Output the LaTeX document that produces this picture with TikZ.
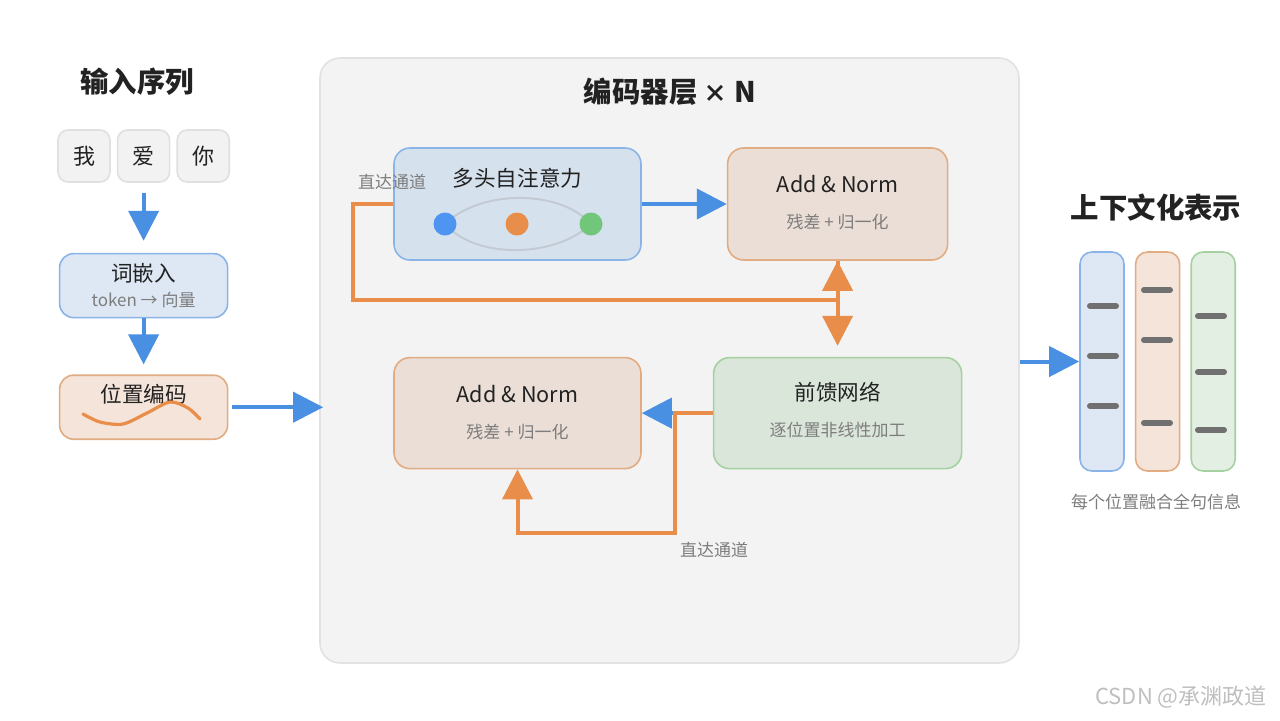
\documentclass[tikz,border=0pt]{standalone}
\usepackage{fontspec}
\setmainfont{Noto Sans CJK SC}
\usetikzlibrary{arrows.meta,calc,positioning}
\definecolor{FlowBlue}{RGB}{74,144,226}
\definecolor{ResOrange}{RGB}{232,142,74}
\definecolor{DotBlue}{RGB}{78,149,242}
\definecolor{DotGreen}{RGB}{114,198,122}
\definecolor{BlueLine}{RGB}{138,180,232}
\definecolor{BlueFill}{RGB}{222,231,244}
\definecolor{MhaFill}{RGB}{214,225,238}
\definecolor{OrangeLine}{RGB}{226,172,130}
\definecolor{OrangeFill}{RGB}{245,228,217}
\definecolor{AddFill}{RGB}{234,222,214}
\definecolor{GreenLine}{RGB}{165,208,160}
\definecolor{GreenFill}{RGB}{228,239,227}
\definecolor{FfnFill}{RGB}{219,230,219}
\definecolor{EncLine}{RGB}{226,226,226}
\definecolor{EncFill}{RGB}{243,243,243}
\definecolor{TokLine}{RGB}{224,224,224}
\definecolor{TokFill}{RGB}{242,242,242}
\definecolor{ArcGray}{RGB}{196,202,212}
\definecolor{TickGray}{RGB}{112,112,112}
\definecolor{TextDark}{RGB}{34,34,34}
\definecolor{TextGray}{RGB}{125,125,125}

\begin{document}
\begin{tikzpicture}[x=0.5pt, y=-0.5pt, >={Triangle[length=15pt, width=15pt]}]
    \tikzstyle{tok}=[draw=TokLine, fill=TokFill, line width=0.8pt, rounded corners=5pt, minimum size=26pt, font=\fontsize{11}{13}\selectfont, text=TextDark]
    \tikzstyle{blk}=[line width=0.8pt, rounded corners=7pt, inner sep=0pt]
    \tikzstyle{ttl}=[font=\fontsize{14.2}{16}\selectfont\bfseries, text=TextDark]
    \tikzstyle{head}=[font=\fontsize{10.8}{13}\selectfont, text=TextDark]
    \tikzstyle{sub}=[font=\fontsize{8.5}{10}\selectfont, text=TextGray]
    \tikzstyle{flow}=[->, FlowBlue, line width=2pt]
    \tikzstyle{res}=[->, ResOrange, line width=2pt]
    \tikzstyle{dot}=[circle, inner sep=0pt, minimum size=11.5pt]
    \tikzstyle{tick}=[line width=3pt, line cap=round, TickGray]

    \fill[white] (0,0) rectangle (1280,720);
    \useasboundingbox (0,0) rectangle (1280,720);

    % input
    \node[ttl] (intitle) at (137,82) {输入序列};
    \node[tok] (t1) at (84,156) {我};
    \node[tok, right=3pt of t1] (t2) {爱};
    \node[tok, right=3pt of t2] (t3) {你};
    \node[blk, draw=BlueLine, fill=BlueFill, minimum width=84pt, minimum height=32pt, below=35pt of t2] (emb) {};
    \node[head] (embt) at ([yshift=6pt]emb.center) {词嵌入};
    \node[sub] (embs) at ([yshift=-7pt]emb.center) {token → 向量};
    \node[blk, draw=OrangeLine, fill=OrangeFill, minimum width=84pt, minimum height=32pt, below=28pt of emb] (pe) {};
    \node[head] (pet) at ([yshift=6.5pt]pe.center) {位置编码};
    \draw[ResOrange, line width=1.6pt, line cap=round] plot[smooth] coordinates {(83,414) (100,422) (123,424) (147,413) (170,402) (188,408) (200,419)};
    \draw[flow, shorten <=5pt, shorten >=6pt] (t2) -- (emb);
    \draw[flow, shorten >=5pt] (emb) -- (pe);

    % encoder layer
    \node[blk, draw=EncLine, fill=EncFill, rounded corners=10pt, minimum width=349.5pt, minimum height=302.5pt] (enc) at (669.5,360.5) {};
    \node[ttl] (enctitle) at (670,92) {编码器层 {\fontsize{12}{14}\selectfont×} N};
    \draw[flow, shorten <=2pt, shorten >=-2pt] (pe.east) -- (pe.east -| enc.west);

    \node[blk, draw=BlueLine, fill=MhaFill, rounded corners=8pt, minimum width=123.5pt, minimum height=56pt] (mha) at (517.5,204) {};
    \node[head] (mhat) at ([yshift=13pt]mha.center) {多头自注意力};
    \coordinate (a1) at (445,224);
    \coordinate (a3) at (591,224);
    \draw[ArcGray, line width=1pt, -{Straight Barb[length=2pt, width=5pt]}, shorten >=2pt] (a1) .. controls (480,190) and (555,190) .. (a3);
    \draw[ArcGray, line width=1pt, -{Straight Barb[length=2pt, width=5pt]}, shorten >=2pt] (a3) .. controls (555,258) and (480,258) .. (a1);
    \node[dot, fill=DotBlue] (d1) at (a1) {};
    \node[dot, fill=ResOrange] (d2) at (517,224) {};
    \node[dot, fill=DotGreen] (d3) at (a3) {};

    \node[blk, draw=OrangeLine, fill=AddFill, rounded corners=8pt, minimum width=110pt, minimum height=56pt, right=42.5pt of mha] (an1) {};
    \node[head] (an1t) at ([yshift=10pt]an1.center) {Add \& Norm};
    \node[sub] (an1s) at ([yshift=-9pt]an1.center) {残差 + 归一化};

    \node[blk, draw=GreenLine, fill=FfnFill, rounded corners=8pt, minimum width=124pt, minimum height=55.5pt, below=48pt of an1] (ffn) {};
    \node[head] (ffnt) at ([yshift=10.5pt]ffn.center) {前馈网络};
    \node[sub] (ffns) at ([yshift=-8.5pt]ffn.center) {逐位置非线性加工};

    \node[blk, draw=OrangeLine, fill=AddFill, rounded corners=8pt, minimum width=123.5pt, minimum height=55.5pt, left=35.5pt of ffn] (an2) {};
    \node[head] (an2t) at ([yshift=9.5pt]an2.center) {Add \& Norm};
    \node[sub] (an2s) at ([yshift=-9.5pt]an2.center) {残差 + 归一化};

    \draw[flow] (mha) -- (an1);
    \coordinate[below=19.5pt of an1] (split);
    \draw[res] (mha.west) -- ++(-40,0) |- (split) -- (an1);
    \draw[res, shorten >=5.5pt] (an1) -- (ffn);
    \node[sub] (skip1) at (392,182) {直达通道};

    \draw[flow] (ffn) -- (an2);
    \draw[res] (ffn.west) -- ++(-38,0) |- ([yshift=-32pt]an2.south) -- (an2);
    \node[sub] (skip2) at (714,550) {直达通道};

    % output
    \node[ttl] (outtitle) at (1156,208) {上下文化表示};
    \node[blk, draw=BlueLine, fill=BlueFill, rounded corners=6pt, minimum width=22pt, minimum height=109.5pt] (bar1) at (1102,361.5) {};
    \node[blk, draw=OrangeLine, fill=OrangeFill, rounded corners=6pt, minimum width=22pt, minimum height=109.5pt, right=5pt of bar1] (bar2) {};
    \node[blk, draw=GreenLine, fill=GreenFill, rounded corners=6pt, minimum width=22pt, minimum height=109.5pt, right=5pt of bar2] (bar3) {};
    \foreach \y in {306,356,406} \draw[tick] (1090,\y) -- (1116,\y);
    \foreach \y in {290,340,423} \draw[tick] (1144,\y) -- (1170,\y);
    \foreach \y in {316,372,430} \draw[tick] (1198,\y) -- (1224,\y);
    \draw[flow] (enc.east |- bar1.center) -- (bar1.west);
    \node[sub] (caption) at (1156,502) {每个位置融合全句信息};

    \node[font=\fontsize{11}{13}\selectfont, text=black!25] (mark) at (1181,697) {CSDN @承渊政道};
\end{tikzpicture}
\end{document}
